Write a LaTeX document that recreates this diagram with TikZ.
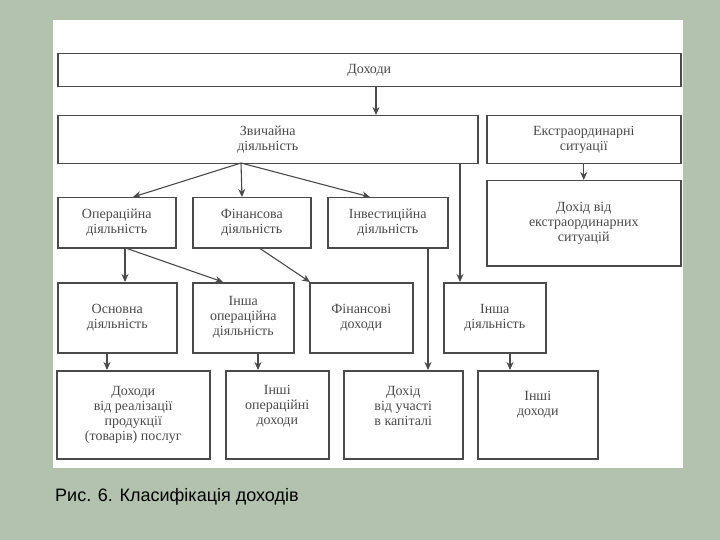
\documentclass[tikz,border=0pt]{standalone}
\usepackage{fontspec}
\setmainfont{Liberation Serif}
\newfontfamily\capfont{Liberation Sans}
\usetikzlibrary{arrows.meta}
\definecolor{bg}{HTML}{B3C2AF}
\definecolor{ink}{HTML}{4A4A4A}
\tikzset{
  bx/.style={draw=ink, line width=1.5pt, text=ink, align=center, inner sep=1pt, font=\fontsize{14}{15}\selectfont, anchor=north west},
  ar/.style={draw=ink, line width=1.1pt, -{Stealth[length=8pt,width=7pt]}}
}
\newcommand{\bxn}[6]{\node[bx, minimum width=#4pt-#2pt, minimum height=#5pt-#3pt] (#1) at (#2,#3) {#6};}
\begin{document}
\begin{tikzpicture}[x=1pt,y=-1pt]
\fill[bg] (0,0) rectangle (720,540);
\useasboundingbox (0,0) rectangle (720,540);
\fill[white] (53,20) rectangle (683,468);
\bxn{doh}{57}{53}{680}{86}{Доходи}
\bxn{zv}{57}{115}{477}{163}{Звичайна\\діяльність}
\bxn{ex}{486}{115}{680}{163}{Екстраординарні\\ситуації}
\bxn{dex}{486}{180}{680}{265}{Дохід від\\екстраординарних\\ситуацій}
\bxn{op}{57}{197}{175}{247}{Операційна\\діяльність}
\bxn{fin}{192}{197}{310}{247}{Фінансова\\діяльність}
\bxn{inv}{327}{197}{447}{247}{Інвестиційна\\діяльність}
\bxn{osn}{57}{282}{176}{352}{Основна\\діяльність}
\bxn{iop}{192}{282}{293}{352}{Інша\\операційна\\діяльність}
\bxn{fd}{309}{282}{412}{352}{Фінансові\\доходи}
\bxn{ind}{443}{282}{545}{352}{Інша\\діяльність}
\bxn{real}{56}{370}{209}{458}{Доходи\\від реалізації\\продукції\\(товарів) послуг}
\bxn{iod}{225}{370}{328}{458}{Інші\\операційні\\доходи\\[4pt]}
\bxn{uch}{343}{370}{462}{458}{Дохід\\від участі\\в капіталі\\[2pt]}
\bxn{idoh}{477}{370}{597}{458}{Інші\\доходи\\[8pt]}
\draw[ar] (doh.south -| 376,0) -- (zv.north -| 376,0);
\coordinate (s) at (241,163);
\draw[ar] (s) -- (op.north -| 133,0);
\draw[ar] (s) -- (fin.north -| 242,0);
\draw[ar] (s) -- (inv.north -| 370,0);
\draw[ar] (zv.south -| 460,0) -- (ind.north -| 460,0);
\draw[ar] (ex.south) -- (dex.north);
\draw[ar] (op.south -| 125,0) -- (osn.north -| 125,0);
\draw[ar] (op.south -| 127,0) -- (iop.north -| 223,0);
\draw[ar] (fin.south -| 260,0) -- (fd.north -| 310,0);
\draw[ar] (inv.south -| 428,0) -- (uch.north -| 428,0);
\draw[ar] (osn.south -| 107,0) -- (real.north -| 107,0);
\draw[ar] (iop.south -| 258,0) -- (iod.north -| 258,0);
\draw[ar] (ind.south -| 510,0) -- (idoh.north -| 510,0);
\node[anchor=west, font=\capfont\fontsize{18}{18}\selectfont, inner sep=0] (cap) at (55,497) {Рис. 6. Класифікація доходів};
\end{tikzpicture}
\end{document}
